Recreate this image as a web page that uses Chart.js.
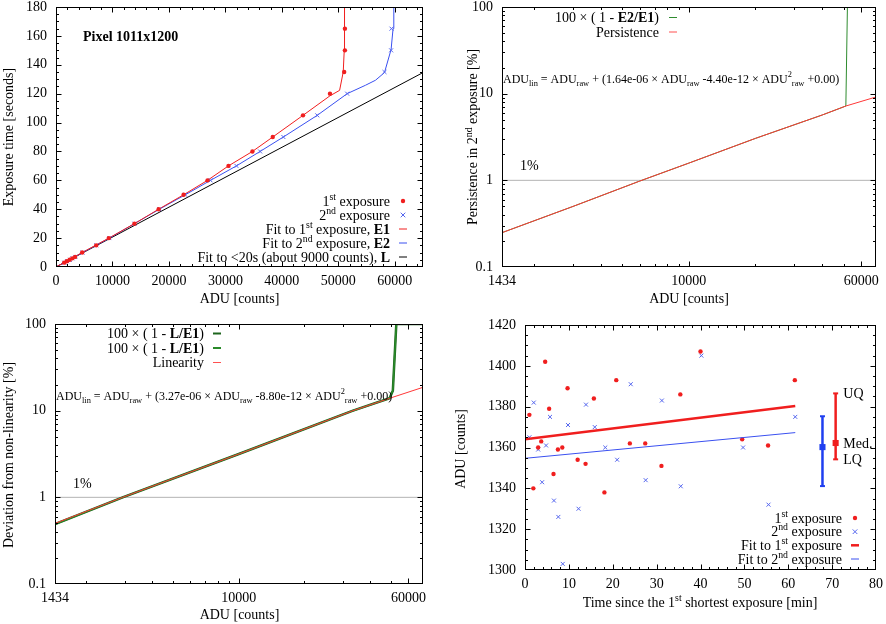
<!DOCTYPE html>
<html><head><meta charset="utf-8">
<script src="https://cdn.jsdelivr.net/npm/chart.js@4.4.1/dist/chart.umd.min.js"></script>
<style>
html,body{margin:0;padding:0;background:#fff;}
#wrap{position:relative;width:886px;height:624px;overflow:hidden;background:#fff;}
canvas{position:absolute;}
</style></head><body>
<div id="wrap">
<canvas id="c1" width="443" height="312" style="left:0;top:0;width:443px;height:312px"></canvas>
<canvas id="c2" width="443" height="312" style="left:443px;top:0;width:443px;height:312px"></canvas>
<canvas id="c3" width="443" height="312" style="left:0;top:312px;width:443px;height:312px"></canvas>
<canvas id="c4" width="443" height="312" style="left:443px;top:312px;width:443px;height:312px"></canvas>
</div>
<script>
// ---------------- Panel 1: exposure time vs ADU ----------------
const e1Time = [3,4,5,6,7,10,15,20,30,40,50,60,70,80,90,105,120,135,150,165];
const e1ADU  = [1450,1930,2420,2900,3390,4640,7120,9350,13890,18180,22600,26840,30550,34790,38390,43750,48520,51040,51170,51170];
const e2Time = [3,4,5,6,7,10,15,20,30,40,50,60,70,80,90,105,120,135,150,165];
const e2ADU  = [1480,1960,2450,2930,3420,4700,7150,9450,13890,18300,22900,27370,31960,36150,40270,46270,51570,58180,59350,59420];
const fitE1ADU  = [0,4640,9350,13890,18180,22600,26840,30550,34790,38390,43750,48520,50230,50870,51050,51100];
const fitE1Time = [0,10,20,30,40,50,60,70,80,90,105,118.5,122.3,135,150,180];
const fitE2ADU  = [0,4700,9450,13890,18300,22900,27370,31960,36150,40270,46270,51570,54800,56590,58180,59350,59700,59830];
const fitE2Time = [0,10,20,30,40,50,60,70,80,90,105,120,125.8,129.3,134.6,150.6,165,180];
const fitLADU  = [0,65000];
const fitLTime = [0,134.6];
const p1XTicks = [0,10000,20000,30000,40000,50000,60000];
const p1YTicks = [0,20,40,60,80,100,120,140,160,180];

// ---------------- Panel 2: persistence ----------------
const persADU = [1434,3000,6000,10000,20000,40000,51170,70000];
const persPct = [0.249,0.5,0.98,1.58,3.05,5.67,7.2,9.16];
const e2e1ADU = [1434,3000,6000,10000,20000,40000,51170,52000,70000];
const e2e1Pct = [0.249,0.5,0.98,1.58,3.05,5.67,7.2,100,100];
const onePctADU = [1434,70000];
const onePct = [1,1];
const logXTicks = [1434,10000,60000];
const logYTicks = [0.1,1,10,100];

// ---------------- Panel 3: deviation from linearity ----------------
const linADU = [1434,2930,10000,33400,49200,70000];
const linPct = [0.5,1.0,3.16,10,13.9,18.6];
const devADU = [1434,2930,10000,33400,49200,50900,52800,70000];
const devPct = [0.49,1.0,3.16,10,13.9,17.0,100,100];

// ---------------- Panel 4: shortest exposure ADU vs time ----------------
const s1Time = [1.0,1.9,3.0,3.7,4.6,5.5,6.5,7.5,8.5,9.7,12.0,13.8,15.7,18.1,20.8,23.9,27.4,31.1,35.4,40.0,49.5,55.4,61.5];
const s1ADU  = [1376,1340,1360,1363,1402,1379,1347,1359,1360,1389,1354,1352,1384,1338,1393,1362,1362,1351,1386,1407,1364,1361,1393];
const s2Time = [1.0,2.0,3.0,3.9,4.8,5.7,6.6,7.6,8.6,9.8,12.2,13.9,15.9,18.3,21.0,24.1,27.5,31.2,35.5,40.2,49.7,55.5,61.6];
const s2ADU  = [1365,1382,1359,1343,1361,1375,1334,1326,1303,1371,1330,1381,1370,1360,1354,1391,1344,1383,1341,1405,1360,1332,1375];
const fitS1Time = [0,61.6];
const fitS1ADU  = [1364,1380.3];
const fitS2Time = [0,61.6];
const fitS2ADU  = [1354.7,1367.3];
const statsTime = [67.8,70.8];
const statsLQ   = [1341.1,1354.2];
const statsMed  = [1360.2,1362.2];
const statsUQ   = [1375.3,1386.5];
const p4XTicks = [0,10,20,30,40,50,60,70,80];
const p4YTicks = [1300,1320,1340,1360,1380,1400,1420];

// ---------------- helpers ----------------
const FF = '"Liberation Serif","Times New Roman",serif';
Chart.defaults.font.family = FF;
Chart.defaults.font.size = 14;
Chart.defaults.color = '#000';
const RED = '#f01e1e', BLUE = '#3a50f0', BLUEPT = '#5566ee';
const xy = (xs, ys) => xs.map((x, i) => ({x: x, y: ys[i]}));
const range = (a, b, s) => { const r = []; for (let v = a; v <= b + 1e-9; v += s) r.push(+v.toFixed(6)); return r; };

function segFont(s, size) {
  const small = s[1] === 'sup' || s[1] === 'sub';
  const sz = small ? size * 0.7 : size;
  return (s[1] === 'b' ? 'bold ' : '') + sz + 'px ' + FF;
}
function richWidth(ctx, segs, size) {
  let w = 0;
  for (const s of segs) { ctx.font = segFont(s, size); w += ctx.measureText(s[0]).width; }
  return w;
}
function drawRich(ctx, segs, x, y, size, align) {
  const w = richWidth(ctx, segs, size);
  let cx = align === 'right' ? x - w : align === 'center' ? x - w / 2 : x;
  ctx.textAlign = 'left'; ctx.textBaseline = 'alphabetic'; ctx.fillStyle = '#000';
  for (const s of segs) {
    ctx.font = segFont(s, size);
    const dy = s[1] === 'sup' ? -size * 0.42 : s[1] === 'sub' ? size * 0.25 : 0;
    ctx.fillText(s[0], cx, y + dy);
    cx += ctx.measureText(s[0]).width;
  }
}
function drawRotated(ctx, segs, cx, cy, size) {
  ctx.save(); ctx.translate(cx, cy); ctx.rotate(-Math.PI / 2);
  drawRich(ctx, segs, 0, size * 0.35, size, 'center');
  ctx.restore();
}
function drawLegend(ctx, L) {
  L.items.forEach((it, i) => {
    const cy = L.rows[i];
    drawRich(ctx, it.segs, L.right, cy + 4.5, 14, 'right');
    ctx.save();
    if (it.type === 'line') {
      ctx.strokeStyle = it.color; ctx.lineWidth = it.lw; ctx.beginPath();
      ctx.moveTo(L.sx - 4, cy); ctx.lineTo(L.sx + 4, cy); ctx.stroke();
    } else if (it.type === 'dot') {
      ctx.fillStyle = it.color; ctx.beginPath(); ctx.arc(L.sx, cy, 2.2, 0, 2 * Math.PI); ctx.fill();
    } else if (it.type === 'cross') {
      const r = 2.3; ctx.strokeStyle = it.color; ctx.lineWidth = 1; ctx.beginPath();
      ctx.moveTo(L.sx - r, cy - r); ctx.lineTo(L.sx + r, cy + r);
      ctx.moveTo(L.sx - r, cy + r); ctx.lineTo(L.sx + r, cy - r); ctx.stroke();
    }
    ctx.restore();
  });
}
function gnuPlugin(o) {
  return {
    id: 'gnu' + o.id,
    afterDatasetsDraw(chart) {
      const ctx = chart.ctx, a = chart.chartArea, xs = chart.scales.x, ys = chart.scales.y;
      const L = Math.round(a.left) + 0.5, R = Math.round(a.right) - 0.5, T = Math.round(a.top) + 0.5, B = Math.round(a.bottom) - 0.5;
      ctx.save();
      ctx.strokeStyle = '#000'; ctx.lineWidth = 1;
      ctx.beginPath();
      const tx = (vals, len) => vals.forEach(v => {
        const p = Math.round(xs.getPixelForValue(v)) + 0.5;
        if (p < L - 0.1 || p > R + 0.1) return;
        ctx.moveTo(p, B); ctx.lineTo(p, B - len); ctx.moveTo(p, T); ctx.lineTo(p, T + len);
      });
      const ty = (vals, len) => vals.forEach(v => {
        const p = Math.round(ys.getPixelForValue(v)) + 0.5;
        if (p < T - 0.1 || p > B + 0.1) return;
        ctx.moveTo(L, p); ctx.lineTo(L + len, p); ctx.moveTo(R, p); ctx.lineTo(R - len, p);
      });
      tx(o.xMajor, 5); tx(o.xMinor, 2.5); ty(o.yMajor, 5); ty(o.yMinor, 2.5);
      ctx.stroke();
      ctx.strokeRect(L, T, R - L, B - T);
      ctx.restore();
    },
    afterDraw(chart) {
      const ctx = chart.ctx;
      ctx.save();
      if (o.legend) drawLegend(ctx, o.legend);
      if (o.texts) o.texts(chart, ctx);
      ctx.restore();
    }
  };
}
function mkChart(id, o) {
  const scale = (type, min, max, ticks, pad, fit) => ({
    type: type, min: min, max: max,
    grid: {display: false, drawTicks: false}, border: {display: false},
    ticks: {padding: pad, autoSkip: false, maxRotation: 0, minRotation: 0, callback: v => String(v), font: {size: 14, family: FF}, color: '#000'},
    afterBuildTicks: s => { s.ticks = ticks.map(v => ({value: v})); },
    afterFit: fit
  });
  return new Chart(document.getElementById(id), {
    type: 'scatter',
    data: {datasets: o.datasets},
    options: {
      responsive: false, animation: false, devicePixelRatio: 1, events: [],
      layout: {padding: {left: 0, top: o.top, right: o.right, bottom: 0}, autoPadding: false},
      plugins: {legend: {display: false}, tooltip: {enabled: false}},
      scales: {
        x: scale(o.xType, o.xMin, o.xMax, o.xMajor, o.xPad, s => { s.height = o.xH; s.paddingLeft = s.paddingRight = s.paddingTop = s.paddingBottom = 0; }),
        y: scale(o.yType, o.yMin, o.yMax, o.yMajor, o.yPad, s => { s.width = o.yW; s.paddingLeft = s.paddingRight = s.paddingTop = s.paddingBottom = 0; })
      }
    },
    plugins: [gnuPlugin(o)]
  });
}
const lineDS = (data, color, lw, order) => ({data: data, showLine: true, borderColor: color, borderWidth: lw, pointRadius: 0, fill: false, tension: 0, order: order || 0});
const dotDS = (data, color, r, order) => ({data: data, showLine: false, pointStyle: 'circle', pointRadius: r, backgroundColor: color, borderColor: color, borderWidth: 0, order: order || 0});
const crossDS = (data, color, r, order) => ({data: data, showLine: false, pointStyle: 'crossRot', pointRadius: r, borderColor: color, backgroundColor: color, borderWidth: 1, order: order || 0});

const logXMinor = [2000,3000,4000,5000,6000,7000,8000,9000,20000,30000,40000,50000];
const logYMinor = [0.2,0.3,0.4,0.5,0.6,0.7,0.8,0.9,2,3,4,5,6,7,8,9,20,30,40,50,60,70,80,90];

// ---------------- Panel 1 ----------------
mkChart('c1', {
  id: 1, xType: 'linear', xMin: 0, xMax: 65000, yType: 'linear', yMin: 0, yMax: 180,
  top: 7, right: 20, yW: 56, xH: 45, xPad: 6, yPad: 9,
  xMajor: p1XTicks, xMinor: range(0, 64000, 2000), yMajor: p1YTicks, yMinor: range(0, 180, 5),
  datasets: [
    dotDS(xy(e1ADU, e1Time), RED, 2.2, 0),
    crossDS(xy(e2ADU, e2Time), BLUEPT, 2.8, 0),
    lineDS(xy(fitE1ADU, fitE1Time), RED, 1, 1),
    lineDS(xy(fitE2ADU, fitE2Time), BLUE, 1, 1),
    lineDS(xy(fitLADU, fitLTime), '#000', 1, 2)
  ],
  legend: {right: 390, sx: 403, rows: [201, 215, 229, 243, 257], items: [
    {segs: [['1'], ['st', 'sup'], [' exposure']], type: 'dot', color: RED},
    {segs: [['2'], ['nd', 'sup'], [' exposure']], type: 'cross', color: BLUEPT},
    {segs: [['Fit to 1'], ['st', 'sup'], [' exposure, '], ['E1', 'b']], type: 'line', color: RED, lw: 1},
    {segs: [['Fit to 2'], ['nd', 'sup'], [' exposure, '], ['E2', 'b']], type: 'line', color: BLUE, lw: 1},
    {segs: [['Fit to <20s (about 9000 counts), '], ['L', 'b']], type: 'line', color: '#000', lw: 1}
  ]},
  texts: (chart, ctx) => {
    drawRich(ctx, [['Pixel 1011x1200', 'b']], 83, 41, 14, 'left');
    drawRotated(ctx, [['Exposure time [seconds]']], 8.5, 137, 14);
    drawRich(ctx, [['ADU [counts]']], 239.5, 303, 14, 'center');
  }
});

// ---------------- Panel 2 ----------------
mkChart('c2', {
  id: 2, xType: 'logarithmic', xMin: 1434, xMax: 70000, yType: 'logarithmic', yMin: 0.1, yMax: 100,
  top: 7, right: 10, yW: 59, xH: 45, xPad: 6, yPad: 9,
  xMajor: logXTicks, xMinor: logXMinor, yMajor: logYTicks, yMinor: logYMinor,
  datasets: [
    lineDS(xy(persADU, persPct), '#ff3838', 1, 0),
    lineDS(xy(e2e1ADU, e2e1Pct), '#2e8b2e', 1, 1),
    lineDS(xy(onePctADU, onePct), '#b4b4b4', 1, 2)
  ],
  legend: {right: 216, sx: 230, rows: [17.5, 32], items: [
    {segs: [['100 \u00d7 ( 1 - '], ['E2/E1', 'b'], [')']], type: 'line', color: '#2e8b2e', lw: 1},
    {segs: [['Persistence']], type: 'line', color: '#ff5050', lw: 1}
  ]},
  texts: (chart, ctx) => {
    drawRich(ctx, [['ADU'], ['lin', 'sub'], [' = ADU'], ['raw', 'sub'], [' + (1.64e-06 \u00d7 ADU'], ['raw', 'sub'], [' -4.40e-12 \u00d7 ADU'], ['2', 'sup'], ['raw', 'sub'], [' +0.00)']], 60, 82.5, 12, 'left');
    drawRich(ctx, [['1%']], 77, 170, 14, 'left');
    drawRotated(ctx, [['Persistence in 2'], ['nd', 'sup'], [' exposure [%]']], 29.5, 137, 14);
    drawRich(ctx, [['ADU [counts]']], 246, 302.5, 14, 'center');
  }
});

// ---------------- Panel 3 ----------------
mkChart('c3', {
  id: 3, xType: 'logarithmic', xMin: 1434, xMax: 70000, yType: 'logarithmic', yMin: 0.1, yMax: 100,
  top: 12, right: 20, yW: 55, xH: 40, xPad: 6, yPad: 9,
  xMajor: logXTicks, xMinor: logXMinor, yMajor: logYTicks, yMinor: logYMinor,
  datasets: [
    lineDS(xy(linADU, linPct), '#ff3838', 1, 0),
    lineDS(xy(devADU, devPct), '#2a8a2a', 1.5, 1),
    lineDS(xy(devADU, devPct), '#1d651d', 2.5, 2),
    lineDS(xy(onePctADU, onePct), '#b4b4b4', 1, 3)
  ],
  legend: {right: 204, sx: 217, rows: [21.5, 36, 50.5], items: [
    {segs: [['100 \u00d7 ( 1 - '], ['L/E1', 'b'], [')']], type: 'line', color: '#1d651d', lw: 2},
    {segs: [['100 \u00d7 ( 1 - '], ['L/E1', 'b'], [')']], type: 'line', color: '#2a8a2a', lw: 2},
    {segs: [['Linearity']], type: 'line', color: '#ff5050', lw: 1}
  ]},
  texts: (chart, ctx) => {
    drawRich(ctx, [['ADU'], ['lin', 'sub'], [' = ADU'], ['raw', 'sub'], [' + (3.27e-06 \u00d7 ADU'], ['raw', 'sub'], [' -8.80e-12 \u00d7 ADU'], ['2', 'sup'], ['raw', 'sub'], [' +0.00)']], 56, 87.5, 12, 'left');
    drawRich(ctx, [['1%']], 73, 175.5, 14, 'left');
    drawRotated(ctx, [['Deviation from non-linearity [%]']], 8.5, 143, 14);
    drawRich(ctx, [['ADU [counts]']], 239.5, 307, 14, 'center');
  }
});

// ---------------- Panel 4 ----------------
const errBar = (i, color) => ({
  data: [{x: statsTime[i], y: statsLQ[i]}, {x: statsTime[i], y: statsUQ[i]}],
  showLine: true, borderColor: color, borderWidth: 2.5, pointStyle: 'line', pointRadius: 2.5,
  pointBorderWidth: 2, pointBorderColor: color, backgroundColor: color, order: 1
});
const medPt = (i, color) => ({
  data: [{x: statsTime[i], y: statsMed[i]}], showLine: false, pointStyle: 'rect', pointRadius: 4.3,
  backgroundColor: color, borderColor: color, borderWidth: 0, order: 0
});
mkChart('c4', {
  id: 4, xType: 'linear', xMin: 0, xMax: 80, yType: 'linear', yMin: 1300, yMax: 1420,
  top: 13, right: 10, yW: 82, xH: 54, xPad: 6, yPad: 9,
  xMajor: p4XTicks, xMinor: range(0, 80, 2), yMajor: p4YTicks, yMinor: range(1300, 1420, 5),
  datasets: [
    dotDS(xy(s1Time, s1ADU), RED, 2.2, 2),
    crossDS(xy(s2Time, s2ADU), BLUEPT, 2.8, 2),
    lineDS(xy(fitS1Time, fitS1ADU), RED, 2.5, 1),
    lineDS(xy(fitS2Time, fitS2ADU), BLUE, 1, 1),
    errBar(0, '#1f3ff0'), medPt(0, '#1f3ff0'),
    errBar(1, '#f01e1e'), medPt(1, '#f01e1e')
  ],
  legend: {right: 399, sx: 412, rows: [206, 219.7, 233.3, 247], items: [
    {segs: [['1'], ['st', 'sup'], [' exposure']], type: 'dot', color: RED},
    {segs: [['2'], ['nd', 'sup'], [' exposure']], type: 'cross', color: BLUEPT},
    {segs: [['Fit to 1'], ['st', 'sup'], [' exposure']], type: 'line', color: RED, lw: 2.5},
    {segs: [['Fit to 2'], ['nd', 'sup'], [' exposure']], type: 'line', color: BLUE, lw: 1}
  ]},
  texts: (chart, ctx) => {
    const xs = chart.scales.x, ys = chart.scales.y;
    const lx = xs.getPixelForValue(statsTime[1] + 1.75);
    drawRich(ctx, [['UQ']], lx, ys.getPixelForValue(statsUQ[1]) + 5, 14, 'left');
    drawRich(ctx, [['Med.']], lx, ys.getPixelForValue(statsMed[1]) + 5, 14, 'left');
    drawRich(ctx, [['LQ']], lx, ys.getPixelForValue(statsLQ[1]) + 5, 14, 'left');
    drawRotated(ctx, [['ADU [counts]']], 17.5, 137, 14);
    drawRich(ctx, [['Time since the 1'], ['st', 'sup'], [' shortest exposure [min]']], 257, 295, 14, 'center');
  }
});
</script>
</body></html>
